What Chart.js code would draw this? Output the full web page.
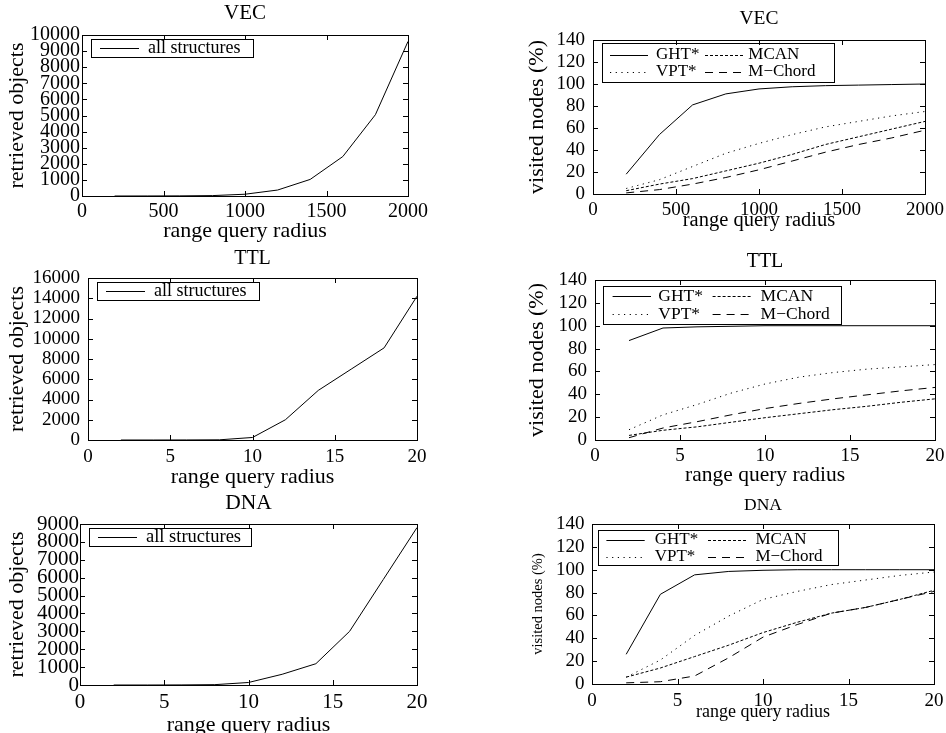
<!DOCTYPE html>
<html>
<head>
<meta charset="utf-8">
<script src="https://cdn.jsdelivr.net/npm/chart.js@4.4.1/dist/chart.umd.min.js"></script>
<style>
  html, body { margin: 0; padding: 0; background: #fff; }
  body { position: relative; width: 946px; height: 733px; overflow: hidden; }
  canvas { position: absolute; }
</style>
</head>
<body>
<script>
const FONT = 'Liberation Serif';

// range query radius
const radiusVec = [200, 400, 600, 800, 1000, 1200, 1400, 1600, 1800, 2000];
const radiusInt = [2, 4, 6, 8, 10, 12, 14, 16, 18, 20];

// retrieved objects (all structures)
const vecRetrieved = [0, 2, 8, 25, 110, 370, 1030, 2450, 5050, 9600];
const ttlRetrieved = [0, 0, 5, 20, 250, 2000, 4900, 7000, 9100, 14200];
const dnaRetrieved = [0, 0, 5, 20, 140, 600, 1190, 3000, 5900, 8800];

// visited nodes (%)
const vecGht = [18, 54, 81, 91, 95.5, 97.5, 98.5, 99, 99.5, 100];
const vecMcan = [3, 9, 14, 21, 28, 36, 45, 52, 59, 66];
const vecVpt = [5, 13, 25, 37, 46, 54, 61, 66, 71, 75];
const vecMchord = [1, 4, 9, 15, 22, 30, 38, 45, 51, 58];

const ttlGht = [87, 98, 99, 99.5, 100, 100, 100, 100, 100, 100];
const ttlMcan = [4, 8.5, 11.5, 15.5, 19.5, 23, 26.5, 29.5, 33, 36];
const ttlVpt = [9, 22, 31, 41, 49, 55, 59, 62, 64, 66];
const ttlMchord = [2, 10.5, 16, 22, 27.5, 32, 36, 39.5, 43, 46];

const dnaGht = [26, 78.5, 95.5, 98.5, 99.5, 100, 100, 100, 100, 100];
const dnaMcan = [6, 14, 24, 34, 45, 54, 62, 67, 74, 82];
const dnaVpt = [6, 21, 42.5, 59.5, 74, 81, 87, 91, 95, 98];
const dnaMchord = [1, 2, 7, 23, 41, 52, 62, 67, 74, 81];

const DASH_SOLID = [];
const DASH_MCAN = [3, 2];
const DASH_VPT = [1.2, 4.5];
const DASH_MCHORD = [8, 6];

const pts = (xs, ys) => xs.map((x, i) => ({ x: x, y: ys[i] }));

const single = (xs, ys) => [
  { label: 'all structures', data: pts(xs, ys), dash: DASH_SOLID, row: 0, col: 0 },
];
const four = (xs, g, m, v, c) => [
  { label: 'GHT*', data: pts(xs, g), dash: DASH_SOLID, row: 0, col: 0 },
  { label: 'MCAN', data: pts(xs, m), dash: DASH_MCAN, row: 0, col: 1 },
  { label: 'VPT*', data: pts(xs, v), dash: DASH_VPT, row: 1, col: 0 },
  { label: 'M\u2212Chord', data: pts(xs, c), dash: DASH_MCHORD, row: 1, col: 1 },
];

const SINGLE_KEY = { box: [9, 4, 162, 18], rows: [13], cols: [[18, 57, 66]] };

const panels = [
  { plot: [82, 35, 408, 196], title: 'VEC', titleY: 13, titleSize: 21,
    tickSize: 20, yPad: 2, xTickY: 212, xMax: 2000, xStep: 500, yMax: 10000, yStep: 1000,
    yLabel: 'retrieved objects', yLabelX: 17.5, ySize: 22, xLabelY: 231.5, xSize: 22,
    keySize: 18, key: SINGLE_KEY, series: single(radiusVec, vecRetrieved) },
  { plot: [593, 40, 925, 194], title: 'VEC', titleY: 19, titleSize: 19.5,
    tickSize: 19, yPad: 8, xTickY: 210.5, xMax: 2000, xStep: 500, yMax: 140, yStep: 20,
    yLabel: 'visited nodes (%)', yLabelX: 537, ySize: 22, xLabelY: 221, xSize: 20.5,
    keySize: 17, key: { box: [8.7, 3, 232.3, 39], rows: [15, 32], cols: [[17, 55, 63], [112, 150.3, 155.3]] },
    series: four(radiusVec, vecGht, vecMcan, vecVpt, vecMchord) },
  { plot: [88, 278, 417, 440], title: 'TTL', titleY: 258.3, titleSize: 20,
    tickSize: 19, yPad: 8, xTickY: 457.2, xMax: 20, xStep: 5, yMax: 16000, yStep: 2000,
    yLabel: 'retrieved objects', yLabelX: 17.5, ySize: 22, xLabelY: 477, xSize: 22,
    keySize: 18, key: SINGLE_KEY, series: single(radiusInt, ttlRetrieved) },
  { plot: [595, 280, 935, 440], title: 'TTL', titleY: 261.7, titleSize: 20,
    tickSize: 19, yPad: 8, xTickY: 456.2, xMax: 20, xStep: 5, yMax: 140, yStep: 20,
    yLabel: 'visited nodes (%)', yLabelX: 537, ySize: 22, xLabelY: 475.5, xSize: 21.5,
    keySize: 17.5, key: { box: [8.3, 6.4, 238.3, 37.6], rows: [16.4, 34], cols: [[17.6, 56, 63.3], [117.6, 156.6, 165.6]] },
    series: four(radiusInt, ttlGht, ttlMcan, ttlVpt, ttlMchord) },
  { plot: [80, 524, 417, 685], title: 'DNA', titleY: 503.3, titleSize: 21.5,
    tickSize: 21, yPad: 1, xTickY: 702.5, xMax: 20, xStep: 5, yMax: 9000, yStep: 1000,
    yLabel: 'retrieved objects', yLabelX: 17.5, ySize: 22, xLabelY: 725, xSize: 22,
    keySize: 18.5, key: SINGLE_KEY, series: single(radiusInt, dnaRetrieved) },
  { plot: [592, 524, 934, 684], title: 'DNA', titleY: 505, titleSize: 17.5,
    tickSize: 19, yPad: 7.6, xTickY: 701.2, xMax: 20, xStep: 5, yMax: 140, yStep: 20,
    yLabel: 'visited nodes (%)', yLabelX: 538, ySize: 14.5, xLabelY: 712.5, xSize: 18,
    keySize: 17, key: { box: [6, 6, 240, 35], rows: [16, 32.7], cols: [[14.4, 52.7, 62.7], [116, 154.4, 163.4]] },
    series: four(radiusInt, dnaGht, dnaMcan, dnaVpt, dnaMchord) },
];

// gnuplot-like frame with inward ticks on all four sides
const framePlugin = {
  id: 'frame',
  afterDatasetsDraw(chart) {
    const { ctx, chartArea: a, scales: { x, y } } = chart;
    const len = 5;
    ctx.save();
    ctx.strokeStyle = '#000';
    ctx.lineWidth = 1;
    ctx.setLineDash([]);
    ctx.beginPath();
    x.ticks.forEach(t => {
      const px = Math.round(x.getPixelForValue(t.value)) + 0.5;
      ctx.moveTo(px, a.bottom); ctx.lineTo(px, a.bottom - len);
      ctx.moveTo(px, a.top); ctx.lineTo(px, a.top + len);
    });
    y.ticks.forEach(t => {
      const py = Math.round(y.getPixelForValue(t.value)) + 0.5;
      ctx.moveTo(a.left, py); ctx.lineTo(a.left + len, py);
      ctx.moveTo(a.right, py); ctx.lineTo(a.right - len, py);
    });
    ctx.stroke();
    ctx.strokeRect(Math.round(a.left) + 0.5, Math.round(a.top) + 0.5,
      Math.round(a.right - a.left), Math.round(a.bottom - a.top));
    ctx.restore();
  }
};

// boxed key in the top-left corner of the plot
const keyPlugin = p => ({
  id: 'key',
  afterDatasetsDraw(chart) {
    const { ctx, chartArea: a } = chart;
    const k = p.key;
    ctx.save();
    ctx.strokeStyle = '#000';
    ctx.fillStyle = '#000';
    ctx.lineWidth = 1;
    ctx.setLineDash([]);
    ctx.strokeRect(Math.round(a.left + k.box[0]) + 0.5, Math.round(a.top + k.box[1]) + 0.5,
      Math.round(k.box[2]), Math.round(k.box[3]));
    ctx.font = p.keySize + 'px "' + FONT + '"';
    ctx.textBaseline = 'middle';
    ctx.textAlign = 'left';
    chart.data.datasets.forEach((ds, i) => {
      const s = p.series[i];
      const col = k.cols[s.col];
      const yy = Math.round(a.top + k.rows[s.row]) + 0.5;
      ctx.beginPath();
      ctx.setLineDash(ds.borderDash);
      ctx.moveTo(a.left + col[0], yy);
      ctx.lineTo(a.left + col[1], yy);
      ctx.stroke();
      ctx.setLineDash([]);
      ctx.fillText(ds.label, a.left + col[2], a.top + k.rows[s.row]);
    });
    ctx.restore();
  }
});

const LW = 95, TH = 40, RW = 30, BH = 55;

panels.forEach(p => {
  const [l, t, r, b] = p.plot;
  const cl = l - LW, ct = t - TH;
  const cv = document.createElement('canvas');
  cv.width = r - l + LW + RW;
  cv.height = b - t + TH + BH;
  cv.style.left = cl + 'px';
  cv.style.top = ct + 'px';
  document.body.appendChild(cv);

  const tl = p.titleSize * 1.2;
  const tTop = p.titleY - ct - tl / 2;
  const kl = p.tickSize * 1.2;
  const xl = p.xSize * 1.2;
  const yl = p.ySize * 1.2;
  const tickFont = { family: FONT, size: p.tickSize };

  new Chart(cv, {
    type: 'line',
    data: {
      datasets: p.series.map(s => ({
        label: s.label,
        data: s.data,
        borderColor: '#000',
        borderWidth: 1,
        borderDash: s.dash,
        pointRadius: 0,
        fill: false,
        tension: 0,
      })),
    },
    options: {
      responsive: false,
      animation: false,
      devicePixelRatio: 1,
      layout: { padding: { left: 0, top: 0, right: RW, bottom: 0 } },
      plugins: {
        legend: { display: false },
        tooltip: { enabled: false },
        title: {
          display: true,
          text: p.title,
          fullSize: false,
          color: '#000',
          font: { family: FONT, size: p.titleSize, weight: 'normal', lineHeight: 1.2 },
          padding: { top: tTop, bottom: TH - tl - tTop },
        },
      },
      scales: {
        x: {
          type: 'linear',
          min: 0,
          max: p.xMax,
          grid: { display: false, drawTicks: false },
          border: { display: false },
          ticks: {
            stepSize: p.xStep, autoSkip: false, maxRotation: 0, color: '#000',
            font: tickFont, padding: p.xTickY - b - kl / 2,
            callback: v => String(v),
          },
          title: {
            display: true, text: 'range query radius', color: '#000',
            font: { family: FONT, size: p.xSize, lineHeight: 1.2 },
            padding: { top: 0, bottom: (b + BH) - p.xLabelY - xl / 2 },
          },
          afterFit: s => { s.height = BH; },
        },
        y: {
          type: 'linear',
          min: 0,
          max: p.yMax,
          grid: { display: false, drawTicks: false },
          border: { display: false },
          ticks: {
            stepSize: p.yStep, autoSkip: false, color: '#000',
            font: tickFont, padding: p.yPad,
            callback: v => String(v),
          },
          title: {
            display: true, text: p.yLabel, color: '#000',
            font: { family: FONT, size: p.ySize, lineHeight: 1.2 },
            padding: { top: p.yLabelX - cl - yl / 2, bottom: 0 },
          },
          afterFit: s => { s.width = LW; },
        },
      },
    },
    plugins: [framePlugin, keyPlugin(p)],
  });
});
</script>
</body>
</html>
